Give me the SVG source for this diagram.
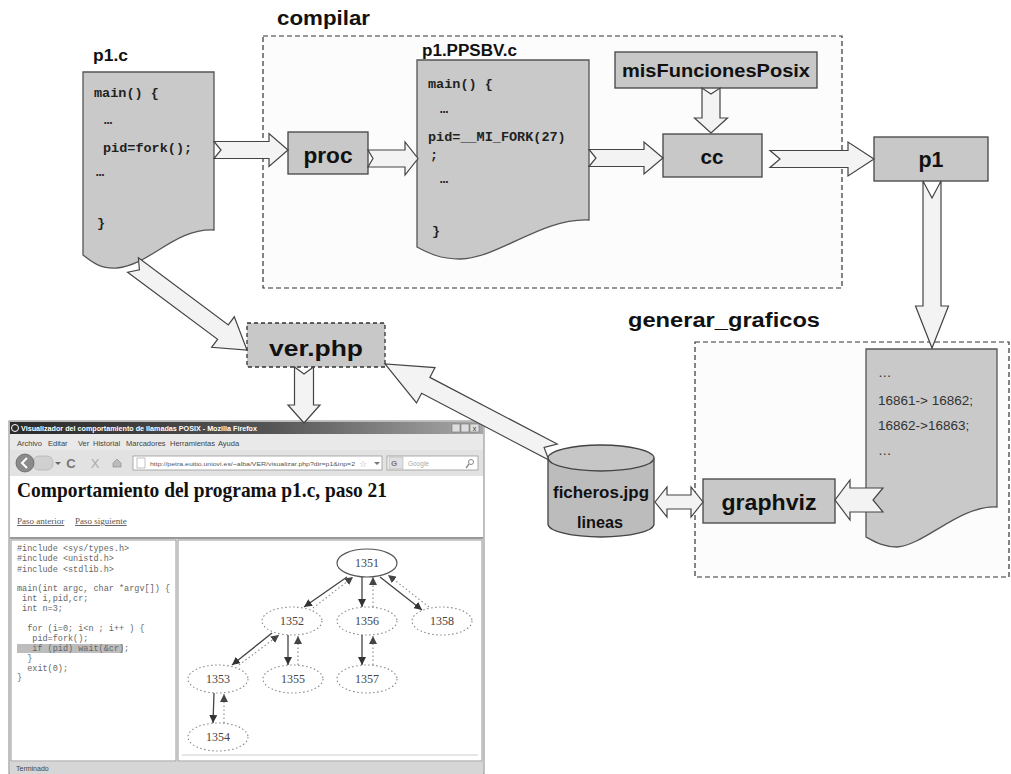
<svg xmlns="http://www.w3.org/2000/svg" width="1011" height="774" viewBox="0 0 1011 774">
<style>
.lbl{font-family:"Liberation Sans",Arial,sans-serif;font-weight:bold;fill:#111}
.box{fill:#c8c8c8;stroke:#444;stroke-width:1.3}
.doc{fill:#c9c9c9;stroke:#555;stroke-width:1.3}
.grp{fill:#fcfcfc;stroke:#333;stroke-width:1.2;stroke-dasharray:5 3}
.code{font-family:"Liberation Mono","Courier New",monospace;font-weight:bold;font-size:13.5px;fill:#222}
.dtxt{font-family:"Liberation Sans",Arial,sans-serif;font-size:13.5px;fill:#333}
.blk{fill:#f3f3f3;stroke:#444;stroke-width:1.2;stroke-linejoin:miter}
.ui{font-family:"Liberation Sans",Arial,sans-serif;font-size:7.5px;fill:#444}
.bcode{font-family:"Liberation Mono","Courier New",monospace;font-size:8.5px;fill:#666}
.gn{fill:#fff;stroke:#888;stroke-width:1.1;stroke-dasharray:1.5 2.5}
.gt{font-family:"Liberation Serif","Times New Roman",serif;font-size:12px;fill:#444;text-anchor:middle}
.es{stroke:#444;stroke-width:1.3;fill:none;marker-end:url(#ah)}
.ed{stroke:#888;stroke-width:1.1;stroke-dasharray:1.5 2.5;fill:none;marker-end:url(#ahd)}
</style>
<defs>
<marker id="ah" viewBox="0 0 10 10" refX="10" refY="5" markerWidth="8" markerHeight="8" orient="auto" markerUnits="userSpaceOnUse"><path d="M0,0 L10,5 L0,10 z" fill="#333"/></marker>
<marker id="ahd" viewBox="0 0 10 10" refX="10" refY="5" markerWidth="8" markerHeight="8" orient="auto" markerUnits="userSpaceOnUse"><path d="M0,0 L10,5 L0,10 z" fill="#444"/></marker>
<linearGradient id="tb" x1="0" y1="0" x2="1" y2="0"><stop offset="0" stop-color="#2a2a2a"/><stop offset="0.55" stop-color="#555"/><stop offset="1" stop-color="#a8a8a8"/></linearGradient>
</defs>
<rect width="1011" height="774" fill="#fff"/>

<g id="compilar">
<rect class="grp" x="263" y="36" width="579" height="252"/>
<text class="lbl" x="277" y="25" font-size="20" textLength="93" lengthAdjust="spacingAndGlyphs">compilar</text>
</g>
<g id="generar_graficos">
<rect class="grp" x="695" y="342" width="314" height="235"/>
<text class="lbl" x="628" y="327" font-size="20" textLength="192" lengthAdjust="spacingAndGlyphs">generar_graficos</text>
</g>

<g id="p1c">
<text class="lbl" x="93" y="61" font-size="17" textLength="35" lengthAdjust="spacingAndGlyphs">p1.c</text>
<path class="doc" d="M83,72 H214 V230 C175,228 150,265 117,268 C100,269 92,262 83,255 Z"/>
<text class="code" x="94" y="97">main() {</text>
<text class="code" x="104" y="124">…</text>
<text class="code" x="103" y="152">pid=fork();</text>
<text class="code" x="96" y="176">…</text>
<text class="code" x="97" y="227">}</text>
</g>

<g id="proc">
<rect class="box" x="288" y="132" width="80" height="42"/>
<text class="lbl" x="328" y="163" font-size="22" text-anchor="middle" textLength="49" lengthAdjust="spacingAndGlyphs">proc</text>
</g>

<g id="p1ppsbv">
<text class="lbl" x="422" y="56" font-size="16" textLength="95" lengthAdjust="spacingAndGlyphs">p1.PPSBV.c</text>
<path class="doc" d="M417,60 H589 V220 C540,218 500,258 460,259 C440,259 428,253 417,247 Z"/>
<text class="code" x="428" y="88">main() {</text>
<text class="code" x="440" y="113">…</text>
<text class="code" x="428" y="141">pid=__MI_FORK(27)</text>
<text class="code" x="430" y="159">;</text>
<text class="code" x="440" y="183">…</text>
<text class="code" x="432" y="235">}</text>
</g>

<g id="misFuncionesPosix">
<rect class="box" x="615" y="52" width="202" height="36"/>
<text class="lbl" x="716" y="77" font-size="18" text-anchor="middle" textLength="188" lengthAdjust="spacingAndGlyphs">misFuncionesPosix</text>
</g>

<g id="cc">
<rect class="box" x="663" y="134" width="99" height="43"/>
<text class="lbl" x="712" y="164" font-size="20" text-anchor="middle" textLength="23" lengthAdjust="spacingAndGlyphs">cc</text>
</g>

<g id="p1">
<rect class="box" x="874" y="137" width="114" height="44"/>
<text class="lbl" x="931" y="167" font-size="22" text-anchor="middle" textLength="25" lengthAdjust="spacingAndGlyphs">p1</text>
</g>

<g id="traza">
<path class="doc" d="M866,349 H997 V507 C960,505 925,545 897,547 C883,547 875,542 866,537 Z"/>
<text class="dtxt" x="878" y="377">…</text>
<text class="dtxt" x="878" y="405">16861-&gt; 16862;</text>
<text class="dtxt" x="878" y="430">16862-&gt;16863;</text>
<text class="dtxt" x="878" y="455">…</text>
</g>

<g id="graphviz">
<rect class="box" x="703" y="479" width="132" height="44"/>
<text class="lbl" x="769" y="510" font-size="22" text-anchor="middle" textLength="95" lengthAdjust="spacingAndGlyphs">graphviz</text>
</g>

<g id="ficheros">
<path d="M548,458 V524 A53,13 0 0 0 654,524 V458" fill="#bcbcbc" stroke="#444" stroke-width="1.3"/>
<ellipse cx="601" cy="458" rx="53" ry="13" fill="#c6c6c6" stroke="#444" stroke-width="1.3"/>
<text class="lbl" x="601" y="498" font-size="16" text-anchor="middle" textLength="96" lengthAdjust="spacingAndGlyphs">ficheros.jpg</text>
<text class="lbl" x="600" y="528" font-size="16" text-anchor="middle" textLength="46" lengthAdjust="spacingAndGlyphs">lineas</text>
</g>

<g id="verphp">
<rect x="247" y="323" width="138" height="44" fill="#c8c8c8" stroke="#333" stroke-width="1.3" stroke-dasharray="4 3"/>
<text class="lbl" x="316" y="356" font-size="22" text-anchor="middle" textLength="94" lengthAdjust="spacingAndGlyphs">ver.php</text>
</g>

<g id="navegador">
<rect x="9" y="421" width="475" height="353" fill="#eeeeee" stroke="#888" stroke-width="1"/>
<rect x="10" y="422" width="473" height="12" fill="url(#tb)"/>
<circle cx="15" cy="428" r="3.5" fill="none" stroke="#fff" stroke-width="1"/>
<text x="21" y="431" font-family="Liberation Sans,Arial,sans-serif" font-size="7.5" font-weight="bold" fill="#fff" textLength="236" lengthAdjust="spacingAndGlyphs">Visualizador del comportamiento de llamadas POSIX - Mozilla Firefox</text>
<rect x="452" y="424" width="8" height="8" fill="#ddd" stroke="#777" stroke-width="0.6"/>
<rect x="461" y="424" width="8" height="8" fill="#ddd" stroke="#777" stroke-width="0.6"/>
<rect x="470" y="424" width="9" height="8" fill="#ddd" stroke="#777" stroke-width="0.6"/>
<text x="474.5" y="431" font-family="Liberation Sans,Arial,sans-serif" font-size="7" fill="#333" text-anchor="middle">x</text>
<rect x="10" y="434" width="473" height="16" fill="#e9e9e9"/>
<text class="ui" x="17" y="446">Archivo</text>
<text class="ui" x="48" y="446">Editar</text>
<text class="ui" x="78" y="446">Ver</text>
<text class="ui" x="93" y="446">Historial</text>
<text class="ui" x="126" y="446">Marcadores</text>
<text class="ui" x="170" y="446">Herramientas</text>
<text class="ui" x="218" y="446">Ayuda</text>
<rect x="10" y="450" width="473" height="26" fill="#e2e2e2"/>
<rect x="33" y="456" width="20" height="14" rx="6" fill="#d0d0d0" stroke="#aaa" stroke-width="0.6"/>
<circle cx="25" cy="463" r="9" fill="#8a8a8a" stroke="#666" stroke-width="0.8"/>
<path d="M27,458 L22,463 L27,468" fill="none" stroke="#fff" stroke-width="2"/>
<path d="M55,462 l3,3 l3,-3" fill="#666"/>
<text x="71" y="468" font-family="Liberation Sans,Arial,sans-serif" font-size="13" font-weight="bold" fill="#777" text-anchor="middle">C</text>
<text x="95" y="468" font-family="Liberation Sans,Arial,sans-serif" font-size="13" fill="#aaa" text-anchor="middle">X</text>
<path d="M113,467 V463 L117,459 L121,463 V467 Z" fill="#bbb" stroke="#888" stroke-width="0.6"/>
<rect x="133" y="456" width="249" height="14" fill="#fff" stroke="#999" stroke-width="0.8"/>
<rect x="137" y="458" width="8" height="10" fill="#fff" stroke="#999" stroke-width="0.6"/>
<text x="150" y="466" font-family="Liberation Sans,Arial,sans-serif" font-size="6" fill="#555" textLength="205" lengthAdjust="spacingAndGlyphs">http://petra.euitio.uniovi.es/~alba/VER/visualizar.php?dir=p1&amp;inp=2</text>
<text x="363" y="467" font-family="DejaVu Sans,sans-serif" font-size="9" fill="#aaa" text-anchor="middle">☆</text>
<path d="M374,462 l3,3 l3,-3" fill="#777"/>
<rect x="387" y="456" width="91" height="14" fill="#fff" stroke="#999" stroke-width="0.8"/>
<rect x="389" y="457" width="14" height="12" fill="#e0e0e0" stroke="#aaa" stroke-width="0.5"/>
<text x="394" y="466" font-family="Liberation Sans,Arial,sans-serif" font-size="8" font-weight="bold" fill="#777" text-anchor="middle">G</text>
<text x="408" y="466" font-family="Liberation Sans,Arial,sans-serif" font-size="6.5" fill="#aaa">Google</text>
<circle cx="471" cy="462" r="2.5" fill="none" stroke="#888" stroke-width="1"/>
<path d="M469,464 l-3,4" stroke="#888" stroke-width="1.3"/>
<rect x="10" y="476" width="473" height="62" fill="#fff"/>
<text x="17" y="497" font-family="Liberation Serif,Times New Roman,serif" font-size="21" font-weight="bold" fill="#111" textLength="370" lengthAdjust="spacingAndGlyphs">Comportamiento del programa p1.c, paso 21</text>
<text x="17" y="524" font-family="Liberation Serif,Times New Roman,serif" font-size="9" fill="#555" text-decoration="underline">Paso anterior</text>
<text x="75" y="524" font-family="Liberation Serif,Times New Roman,serif" font-size="9" fill="#555" text-decoration="underline">Paso siguiente</text>
<line x1="10" y1="538" x2="483" y2="538" stroke="#999" stroke-width="2"/>
<rect x="11" y="540" width="165" height="221" fill="#fff" stroke="#999" stroke-width="1"/>
<rect x="178" y="540" width="304" height="221" fill="#fff" stroke="#999" stroke-width="1"/>
<rect x="17" y="644" width="106" height="9" fill="#bdbdbd"/>
<text class="bcode" x="17" y="551">#include &lt;sys/types.h&gt;</text>
<text class="bcode" x="17" y="561">#include &lt;unistd.h&gt;</text>
<text class="bcode" x="17" y="572">#include &lt;stdlib.h&gt;</text>
<text class="bcode" x="17" y="591">main(int argc, char *argv[]) {</text>
<text class="bcode" x="17" y="601" xml:space="preserve"> int i,pid,cr;</text>
<text class="bcode" x="17" y="611" xml:space="preserve"> int n=3;</text>
<text class="bcode" x="17" y="631" xml:space="preserve">  for (i=0; i&lt;n ; i++ ) {</text>
<text class="bcode" x="17" y="641" xml:space="preserve">   pid=fork();</text>
<text class="bcode" x="17" y="651" xml:space="preserve">   if (pid) wait(&amp;cr);</text>
<text class="bcode" x="17" y="661" xml:space="preserve">  }</text>
<text class="bcode" x="17" y="671" xml:space="preserve">  exit(0);</text>
<text class="bcode" x="17" y="680">}</text>
<line x1="182" y1="755" x2="478" y2="755" stroke="#ccc" stroke-width="1"/>
<rect x="10" y="762" width="473" height="12" fill="#d6d6d6"/>
<text x="16" y="771" font-family="Liberation Sans,Arial,sans-serif" font-size="7" fill="#444">Terminado</text>
</g>

<g id="grafo">
<g id="n1351"><ellipse cx="367" cy="563" rx="30" ry="14" fill="#fff" stroke="#555" stroke-width="1.2"/><text class="gt" x="367" y="567">1351</text></g>
<g id="n1352"><ellipse class="gn" cx="292" cy="621" rx="30" ry="14"/><text class="gt" x="292" y="625">1352</text></g>
<g id="n1356"><ellipse class="gn" cx="367" cy="621" rx="30" ry="14"/><text class="gt" x="367" y="625">1356</text></g>
<g id="n1358"><ellipse class="gn" cx="442" cy="621" rx="30" ry="14"/><text class="gt" x="442" y="625">1358</text></g>
<g id="n1353"><ellipse class="gn" cx="218" cy="679" rx="30" ry="14"/><text class="gt" x="218" y="683">1353</text></g>
<g id="n1355"><ellipse class="gn" cx="293" cy="679" rx="30" ry="14"/><text class="gt" x="293" y="683">1355</text></g>
<g id="n1357"><ellipse class="gn" cx="367" cy="679" rx="30" ry="14"/><text class="gt" x="367" y="683">1357</text></g>
<g id="n1354"><ellipse class="gn" cx="218" cy="737" rx="30" ry="14"/><text class="gt" x="218" y="741">1354</text></g>
<g id="grafo-aristas">
<line class="es" x1="347" y1="577" x2="304" y2="607"/>
<line class="ed" x1="313" y1="608" x2="353" y2="577"/>
<line class="es" x1="362" y1="577" x2="362" y2="607"/>
<line class="ed" x1="373" y1="607" x2="373" y2="577"/>
<line class="es" x1="380" y1="577" x2="422" y2="610"/>
<line class="ed" x1="429" y1="607" x2="388" y2="575"/>
<line class="es" x1="272" y1="633" x2="232" y2="665"/>
<line class="ed" x1="239" y1="665" x2="279" y2="635"/>
<line class="es" x1="288" y1="635" x2="288" y2="665"/>
<line class="ed" x1="298" y1="665" x2="298" y2="636"/>
<line class="es" x1="362" y1="635" x2="362" y2="665"/>
<line class="ed" x1="373" y1="665" x2="373" y2="636"/>
<line class="es" x1="214" y1="693" x2="213" y2="723"/>
<line class="ed" x1="224" y1="723" x2="224" y2="694"/>
</g>
</g>

<g id="connectors">
<polygon class="blk" points="214,141.5 269,141.5 269,133.5 288,150 269,166.5 269,158.5 214,158.5 221,150"/>
<polygon class="blk" points="368,150 405,150 405,142 418,158.5 405,175 405,167 368,167 373,158.5"/>
<polygon class="blk" points="589,149.5 644,149.5 644,142 663,158 644,174 644,166.5 589,166.5 596,158"/>
<polygon class="blk" points="702,88 702,118 694.5,118 711,133 727.5,118 720,118 720,88 711,94"/>
<polygon class="blk" points="770,150.5 848,150.5 848,142 874,159 848,176 848,167.5 770,167.5 780,159"/>
<polygon class="blk" points="923,181 923,306 915.5,306 932,348 948.5,306 941,306 941,181 932,198"/>
<polygon class="blk" points="883,488 850,488 850,480 835,500 850,520 850,512 883,512 873,500"/>
<polygon class="blk" points="655,502 667,487 667,495 691,495 691,487 703,502 691,517 691,509 667,509 667,517"/>
<polygon class="blk" points="127.6,272.2 217.6,339.3 211.6,347.3 247,350 234.3,316.8 228.3,324.9 138.4,257.8 139.4,269.8"/>
<polygon class="blk" points="294.5,367 294.5,405 288,405 304,423 320,405 313.5,405 313.5,367 304,374"/>
<polygon class="blk" points="557.2,444 429.9,377.4 435,367.6 385,364 416.5,403 421.6,393.3 548.8,460 544.1,447.4"/>
</g>
</svg>
